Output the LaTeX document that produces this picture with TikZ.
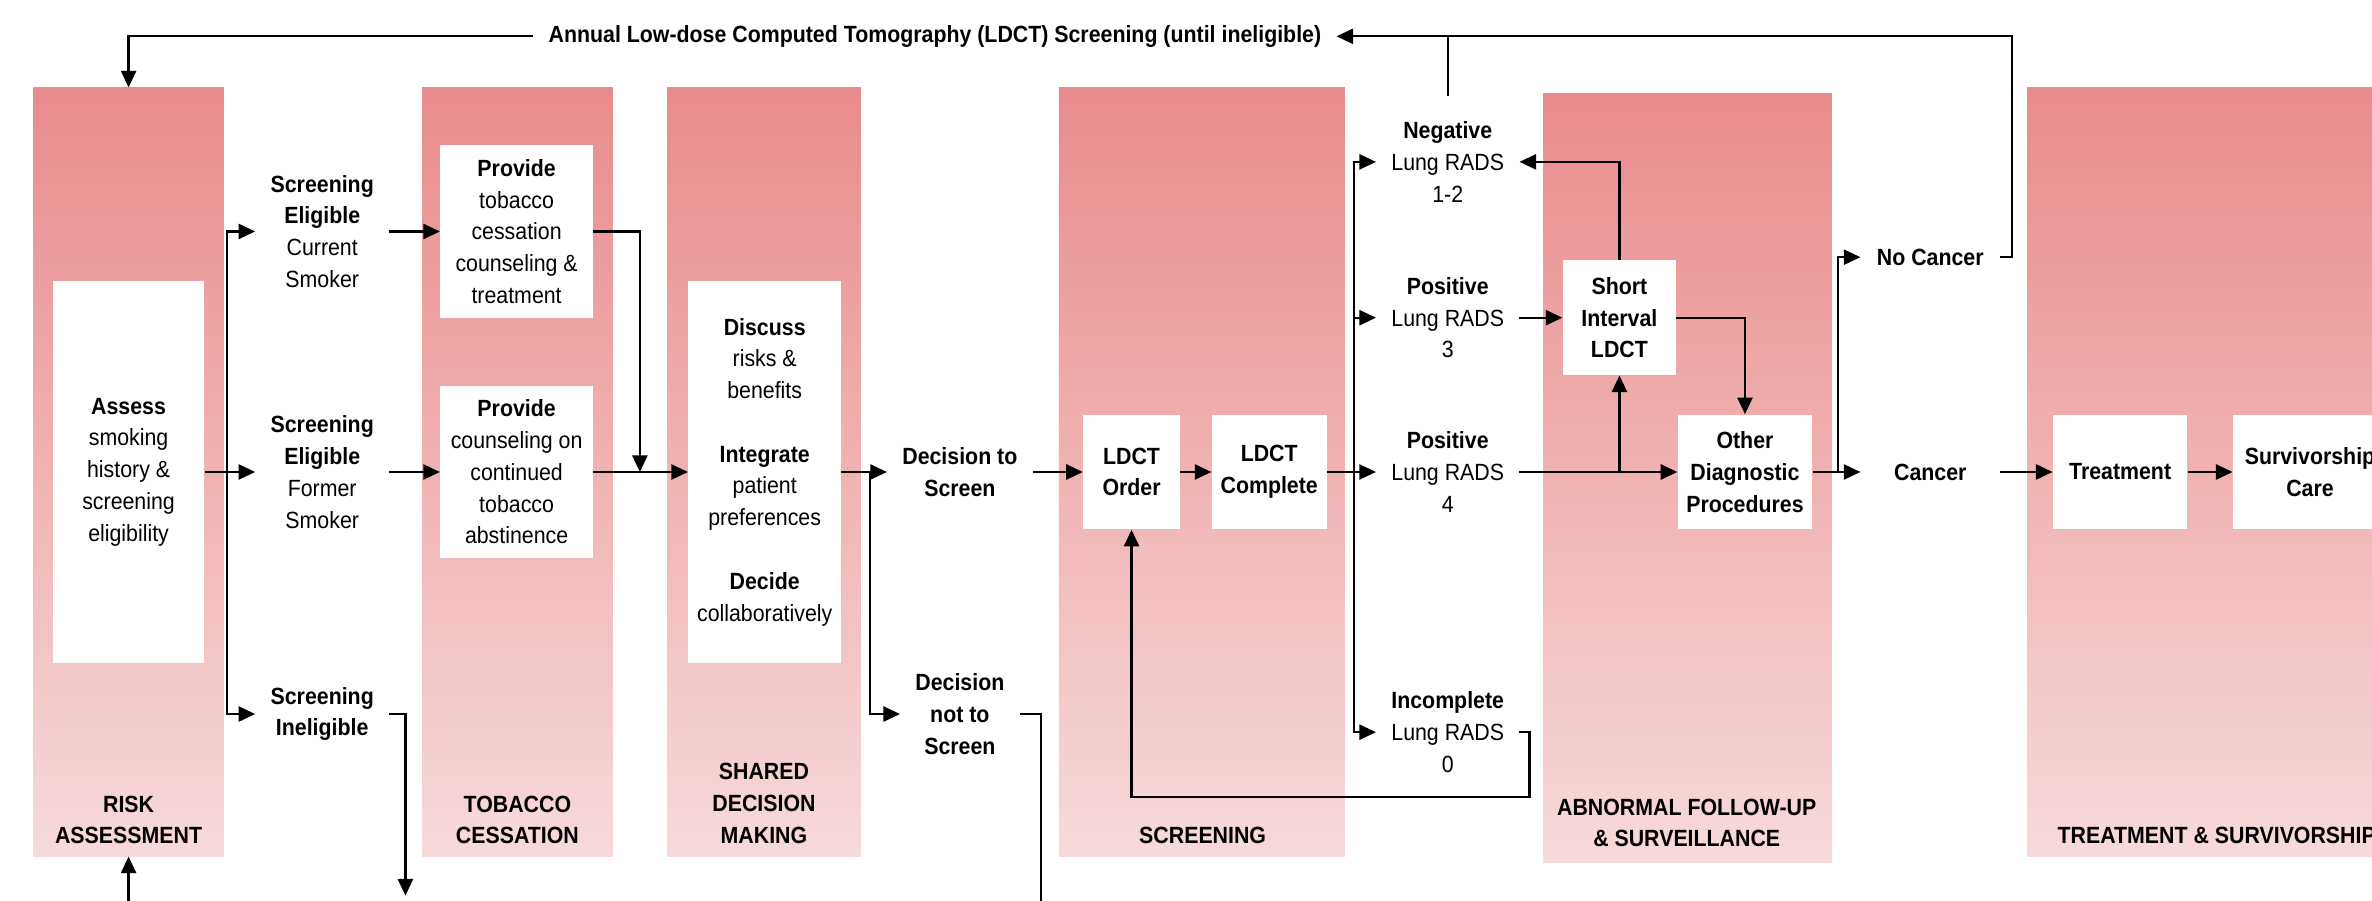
\documentclass[tikz,border=0pt]{standalone}
\usepackage{fontspec}
\setmainfont{Liberation Sans}[FakeStretch=0.91]
\usetikzlibrary{arrows.meta,calc}
\definecolor{ptop}{RGB}{233,139,140}
\definecolor{pbot}{RGB}{247,218,219}
\newcommand\dfs{\fontsize{15.5}{21}\selectfont}
\begin{document}
\begin{tikzpicture}[x=1pt,y=-1pt,
  panel/.style={top color=ptop,bottom color=pbot,draw=none,inner sep=0pt},
  wbox/.style={fill=white,draw=none,inner sep=0pt,align=center,font=\dfs},
  txt/.style={align=center,inner xsep=10pt,inner ysep=3pt,font=\dfs},
  lbl/.style={align=center,inner sep=0pt,font=\dfs\bfseries},
  conn/.style={line width=1.5pt},
  arr/.style={conn,-{Triangle[length=11pt,width=10pt]}}]
\fill[white] (0,0) rectangle (1568,595);
\useasboundingbox (0,0) rectangle (1568,595);
\clip (0,0) rectangle (1568,595);
% panels
\node[panel,minimum width=126pt,minimum height=508pt] (pRisk) at (85,312) {};
\node[panel,minimum width=126pt,minimum height=508pt] (pTob) at (342,312) {};
\node[panel,minimum width=128pt,minimum height=508pt] (pSdm) at (505,312) {};
\node[panel,minimum width=189pt,minimum height=508pt] (pScr) at (794.5,312) {};
\node[panel,minimum width=191pt,minimum height=508pt] (pAbn) at (1115.5,316) {};
\node[panel,minimum width=260pt,minimum height=508pt] (pTrt) at (1470,312) {};
% panel labels
\node[lbl] (lRisk) at (85,542) {RISK\\ASSESSMENT};
\node[lbl] (lTob) at (342,542) {TOBACCO\\CESSATION};
\node[lbl] (lSdm) at (505,531) {SHARED\\DECISION\\MAKING};
\node[lbl] (lScr) at (795,552) {SCREENING};
\node[lbl] (lAbn) at (1115,544) {ABNORMAL FOLLOW-UP\\\& SURVEILLANCE};
\node[lbl,anchor=west] (lTrt) at (1360,552) {TREATMENT \& SURVIVORSHIP};
% white boxes
\node[wbox,minimum width=100pt,minimum height=252pt] (assess) at (85,312) {\textbf{Assess}\\smoking\\history \&\\screening\\eligibility};
\node[wbox,minimum width=101pt,minimum height=114pt] (prov1) at (341.5,153) {\textbf{Provide}\\tobacco\\cessation\\counseling \&\\treatment};
\node[wbox,minimum width=101pt,minimum height=114pt] (prov2) at (341.5,312) {\textbf{Provide}\\counseling on\\continued\\tobacco\\abstinence};
\node[wbox,minimum width=101pt,minimum height=252pt] (sdm) at (505.5,312) {\textbf{Discuss}\\risks \&\\benefits\\[21pt]\textbf{Integrate}\\patient\\preferences\\[21pt]\textbf{Decide}\\collaboratively};
\node[wbox,font=\dfs\bfseries,minimum width=64pt,minimum height=76pt] (order) at (748,312) {LDCT\\Order};
\node[wbox,font=\dfs\bfseries,minimum width=76pt,minimum height=76pt] (complete) at (839,312) {LDCT\\Complete};
\node[wbox,font=\dfs\bfseries,minimum width=75pt,minimum height=76pt] (short) at (1070.5,210) {Short\\Interval\\LDCT};
\node[wbox,font=\dfs\bfseries,minimum width=89pt,minimum height=76pt] (other) at (1153.5,312) {Other\\Diagnostic\\Procedures};
\node[wbox,font=\dfs\bfseries,minimum width=89pt,minimum height=76pt] (treat) at (1401.5,312) {Treatment};
\node[wbox,font=\dfs\bfseries,minimum width=102pt,minimum height=76pt] (surv) at (1527,312) {Survivorship\\Care};
% text nodes
\node[txt] (cur) at (213,153) {\textbf{Screening}\\\textbf{Eligible}\\Current\\Smoker};
\node[txt] (form) at (213,312) {\textbf{Screening}\\\textbf{Eligible}\\Former\\Smoker};
\node[txt,font=\dfs\bfseries] (inel) at (213,472) {Screening\\Ineligible};
\node[txt,font=\dfs\bfseries] (dts) at (634.5,312) {Decision to\\Screen};
\node[txt,font=\dfs\bfseries] (dnts) at (634.5,472) {Decision\\not to\\Screen};
\node[txt] (neg) at (957,107) {\textbf{Negative}\\Lung RADS\\1-2};
\node[txt] (pos3) at (957,210) {\textbf{Positive}\\Lung RADS\\3};
\node[txt] (pos4) at (957,312) {\textbf{Positive}\\Lung RADS\\4};
\node[txt] (inc) at (957,484) {\textbf{Incomplete}\\Lung RADS\\0};
\node[txt,font=\dfs\bfseries,minimum width=92pt,inner xsep=0pt] (nocan) at (1276,170) {No Cancer};
\node[txt,font=\dfs\bfseries,minimum width=92pt,inner xsep=0pt] (can) at (1276,312) {Cancer};
\node[txt,font=\dfs\bfseries] (annual) at (618,24) {Annual Low-dose Computed Tomography (LDCT) Screening (until ineligible)};
% junctions
\coordinate (j1) at (150,312);
\coordinate (j2) at (423,312);
\coordinate (j3) at (575,312);
\coordinate (j4) at (895,312);
\coordinate (j5) at (short.south |- pos4.east);
\coordinate (j6) at (1215,312);
\coordinate (j7) at (1011,527);
\coordinate (j8) at (1330,24);
\coordinate (bRisk) at (85,600);
\coordinate (bInel) at (268,592);
\coordinate (bDn) at (688,600);
% connectors
\draw[arr] (assess.east) -- (form.west);
\draw[arr] (j1) |- (cur.west);
\draw[arr] (j1) |- (inel.west);
\draw[arr] (cur.east) -- (prov1.west);
\draw[arr] (form.east) -- (prov2.west);
\draw[arr] (prov1.east) -| (j2);
\draw[arr] (prov2.east) -- (sdm.west);
\draw[arr] (sdm.east) -- (dts.west);
\draw[arr] (j3) |- (dnts.west);
\draw[arr] (dts.east) -- (order.west);
\draw[arr] (order.east) -- (complete.west);
\draw[arr] (complete.east) -- (pos4.west);
\draw[arr] (j4) |- (neg.west);
\draw[arr] (j4) |- (pos3.west);
\draw[arr] (j4) |- (inc.west);
\draw[arr] (short.north) |- (neg.east);
\draw[arr] (pos3.east) -- (short.west);
\draw[arr] (pos4.east) -- (other.west);
\draw[arr] (j5) -- (short.south);
\draw[arr] (short.east) -| (other.north);
\draw[arr] (other.east) -- (can.west);
\draw[arr] (j6) |- (nocan.west);
\draw[arr] (can.east) -- (treat.west);
\draw[arr] (treat.east) -- (surv.west);
\draw[arr] (inc.east) -| (j7) -| (order.south);
\draw[arr] (nocan.east) -| (j8) -- (annual.east);
\draw[conn] ([yshift=14pt]neg.north) -- (neg.north |- j8);
\draw[arr] (annual.west) -| (pRisk.north);
\draw[arr] (bRisk) -- (pRisk.south);
\draw[arr] (inel.east) -| (bInel);
\draw[conn] (dnts.east) -| (bDn);
\end{tikzpicture}
\end{document}
